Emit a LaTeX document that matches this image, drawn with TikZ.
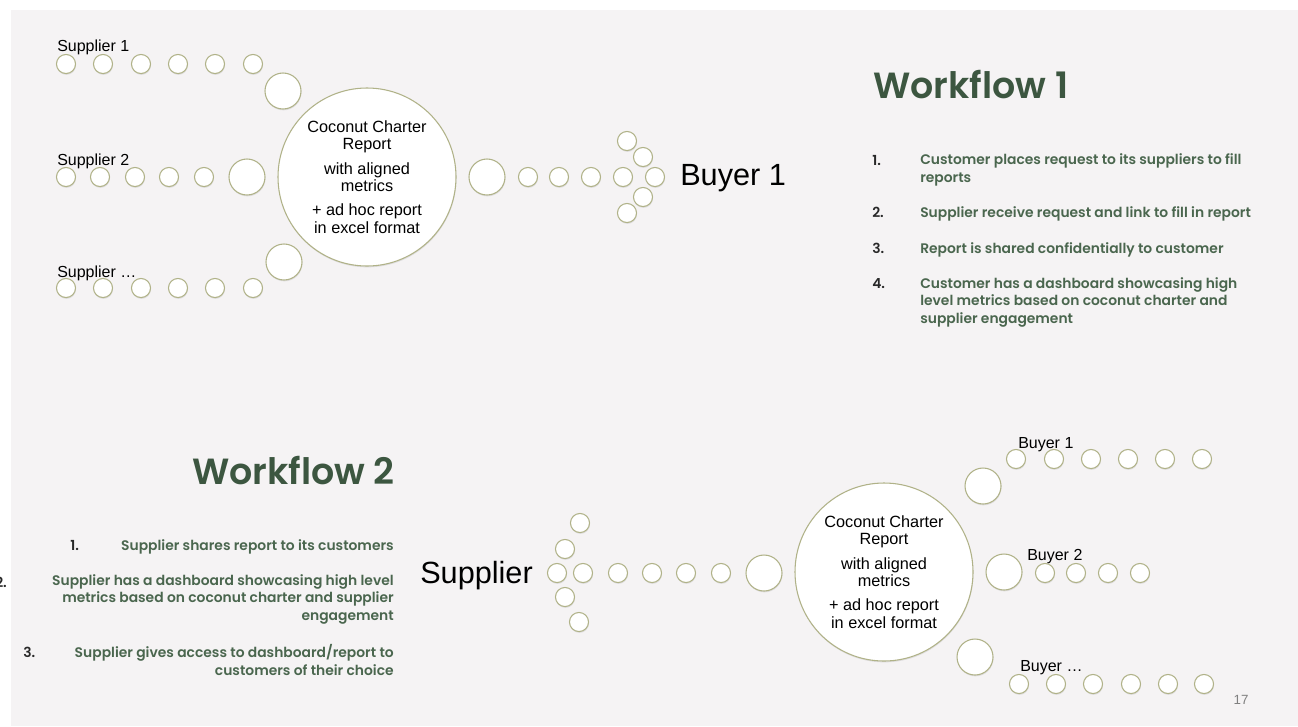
\documentclass[tikz,border=0pt]{standalone}
\usepackage{fontspec}
\setmainfont{Liberation Sans}
\newfontfamily\flowfont{Poppins}[UprightFont={* Medium},BoldFont={* SemiBold}]
\usetikzlibrary{shadows,positioning}
\definecolor{slidebg}{RGB}{245,243,244}
\definecolor{leafgreen}{RGB}{60,86,64}
\definecolor{stepgreen}{RGB}{74,102,78}
\definecolor{stepnumber}{RGB}{40,40,40}
\definecolor{dotrim}{RGB}{176,178,136}

\begin{document}
\begin{tikzpicture}[x=0.75pt,y=-0.75pt]
  \tikzset{dot/.style = {shape=circle,draw=dotrim,fill=white,line width=0.8pt,inner sep=0pt,minimum size=14.3pt,
      drop shadow={shadow xshift=0.3pt,shadow yshift=-1pt,opacity=0.2}}}
  \tikzset{bigdot/.style = {dot,minimum size=27pt}}
  \tikzset{hub/.style = {dot,minimum size=133.5pt,align=center,font=\fontsize{12.2}{13.2}\selectfont}}
  \tikzset{tag/.style = {inner sep=0pt,font=\fontsize{12}{14}\selectfont}}
  \tikzset{party/.style = {inner sep=0pt,font=\fontsize{23}{26}\selectfont}}
  \tikzset{flowhead/.style = {inner sep=0pt,text=leafgreen,font=\flowfont\bfseries\fontsize{27.3}{30}\selectfont}}
  \tikzset{stepnum/.style = {inner sep=0pt,text=stepnumber,font=\flowfont\bfseries\fontsize{10.4}{12.9}\selectfont}}
  \tikzset{steptext/.style = {inner sep=0pt,text=stepgreen,font=\flowfont\bfseries\fontsize{10.4}{12.9}\selectfont}}

  \useasboundingbox (0,0) rectangle (1298,726);
  \fill[slidebg] (11,10) rectangle (1298,726);

  % workflow 1: suppliers -> report -> buyer
  \node[hub] (report1) at (367,177) {Coconut Charter\\Report\\[5pt]with aligned\\metrics\\[5pt]+ ad hoc report\\in excel format};

  \node[tag,anchor=base west] (sup1) at (57,51) {Supplier 1};
  \foreach \x [count=\i] in {66,103,141,178,215,253}
    \node[dot] (sup1-\i) at (\x,64) {};
  \node[bigdot] (sup1-big) at (283,91) {};

  \node[tag,anchor=base west] (sup2) at (57,165) {Supplier 2};
  \foreach \x [count=\i] in {66,100,135,169,204}
    \node[dot] (sup2-\i) at (\x,177) {};
  \node[bigdot] (sup2-big) at (247,177) {};

  \node[tag,anchor=base west] (sup3) at (57,277) {Supplier \dots};
  \foreach \x [count=\i] in {66,103,141,178,215,253}
    \node[dot] (sup3-\i) at (\x,288) {};
  \node[bigdot] (sup3-big) at (284,262) {};

  \node[bigdot] (out1-big) at (487,177) {};
  \foreach \x [count=\i] in {528,559,591,623}
    \node[dot] (out1-\i) at (\x,177) {};
  \node[dot] (tip1) at (655,177) {};
  \node[dot] (tip1-up1) at (643,157) {};
  \node[dot] (tip1-up2) at (627,141) {};
  \node[dot] (tip1-lo1) at (643,197) {};
  \node[dot] (tip1-lo2) at (627,213) {};
  \node[party,anchor=base west] (buyer1) at (680,185) {Buyer 1};

  % steps of workflow 1 (base anchor = last line)
  \node[flowhead,anchor=base west] (title1) at (873,98) {Workflow 1};
  \node[stepnum,anchor=base west] (num1a) at (872,165) {1.};
  \node[steptext,anchor=base west,align=left] (step1a) at (920,182) {Customer places request to its suppliers to fill\\reports};
  \node[stepnum,anchor=base west] (num1b) at (872,217) {2.};
  \node[steptext,anchor=base west,align=left] (step1b) at (920,217) {Supplier receive request and link to fill in report};
  \node[stepnum,anchor=base west] (num1c) at (872,253) {3.};
  \node[steptext,anchor=base west,align=left] (step1c) at (920,253) {Report is shared confidentially to customer};
  \node[stepnum,anchor=base west] (num1d) at (872,288) {4.};
  \node[steptext,anchor=base west,align=left] (step1d) at (920,323) {Customer has a dashboard showcasing high\\level metrics based on coconut charter and\\supplier engagement};

  % workflow 2: supplier -> report -> buyers
  \node[flowhead,anchor=base east] (title2) at (395,484) {Workflow 2};
  \node[stepnum,anchor=base west] (num2a) at (70,550) {1.};
  \node[steptext,anchor=base east,align=right] (step2a) at (394,550) {Supplier shares report to its customers};
  \node[stepnum,anchor=base west] (num2b) at (-5,587) {2.};
  \node[steptext,anchor=base east,align=right] (step2b) at (394,620) {Supplier has a dashboard showcasing high level\\metrics based on coconut charter and supplier\\engagement};
  \node[stepnum,anchor=base west] (num2c) at (23,657) {3.};
  \node[steptext,anchor=base east,align=right] (step2c) at (394,675) {Supplier gives access to dashboard/report to\\customers of their choice};

  \node[party,anchor=base west] (sup) at (420,583) {Supplier};
  \node[dot] (tip2) at (557,573) {};
  \node[dot] (tip2-up1) at (565,549) {};
  \node[dot] (tip2-up2) at (580,523) {};
  \node[dot] (tip2-lo1) at (565,597) {};
  \node[dot] (tip2-lo2) at (579,622) {};
  \foreach \x [count=\i] in {583,618,652,686,721}
    \node[dot] (in2-\i) at (\x,573) {};
  \node[bigdot] (in2-big) at (764,573) {};

  \node[hub] (report2) at (884,572) {Coconut Charter\\Report\\[5pt]with aligned\\metrics\\[5pt]+ ad hoc report\\in excel format};

  \node[bigdot] (buy1-big) at (983,486) {};
  \node[tag,anchor=base west] (buy1) at (1018,448) {Buyer 1};
  \foreach \x [count=\i] in {1016,1054,1091,1128,1165,1202}
    \node[dot] (buy1-\i) at (\x,459) {};

  \node[bigdot] (buy2-big) at (1004,572) {};
  \node[tag,anchor=base west] (buy2) at (1027,560) {Buyer 2};
  \foreach \x [count=\i] in {1045,1076,1108,1140}
    \node[dot] (buy2-\i) at (\x,573) {};

  \node[bigdot] (buy3-big) at (975,657) {};
  \node[tag,anchor=base west] (buy3) at (1020,671) {Buyer \dots};
  \foreach \x [count=\i] in {1019,1056,1093,1131,1168,1204}
    \node[dot] (buy3-\i) at (\x,684) {};

  \node[text=black!50,font=\fontsize{10}{12}\selectfont] (page) at (1241,700) {17};
\end{tikzpicture}
\end{document}
